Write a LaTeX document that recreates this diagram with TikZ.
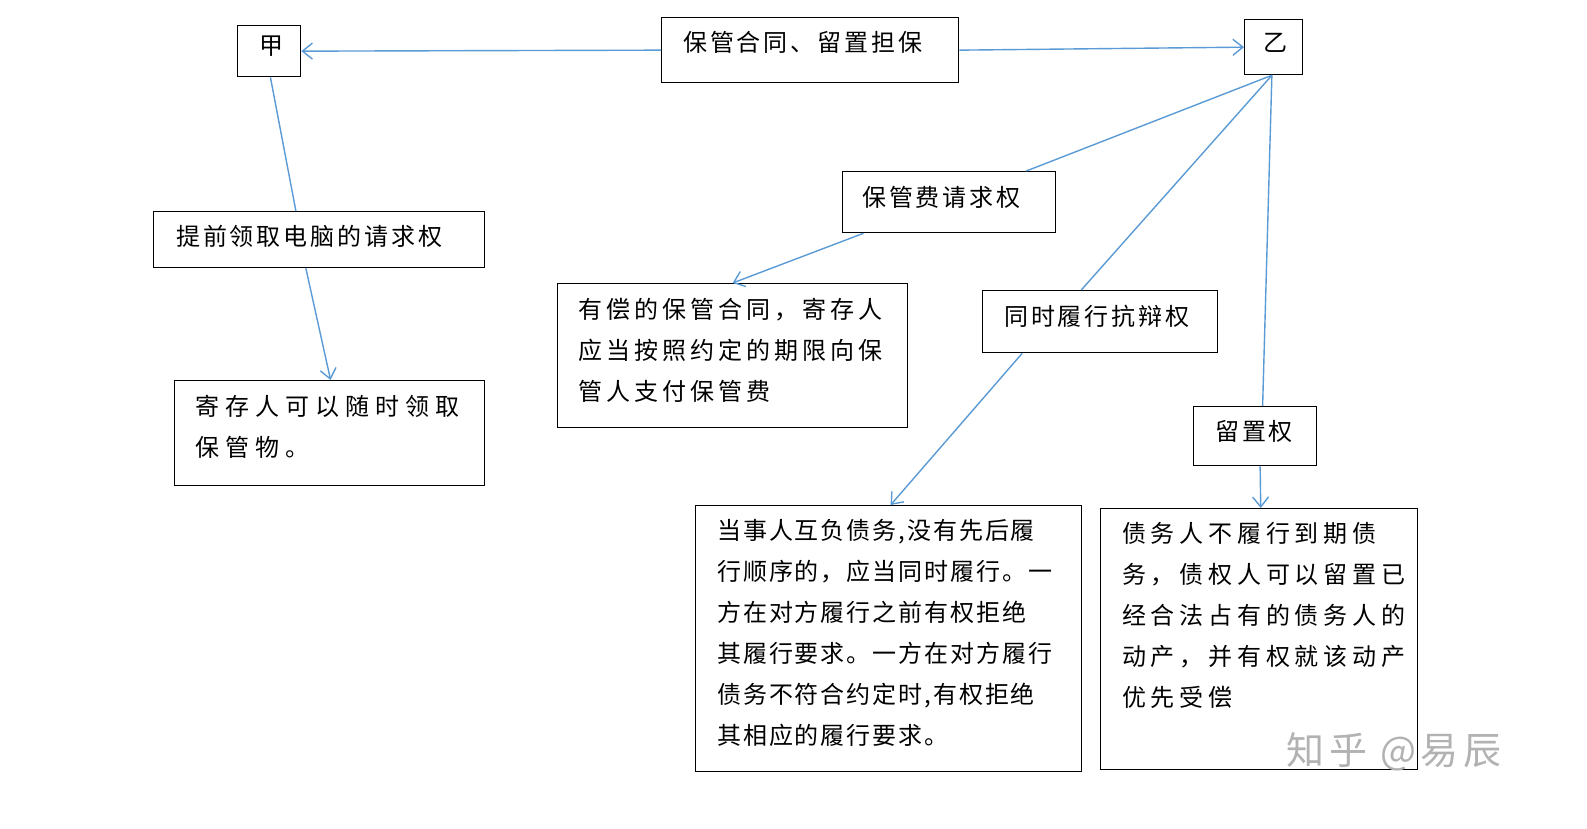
\documentclass[tikz,border=0pt]{standalone}
\usepackage{fontspec}
\usetikzlibrary{arrows.meta,calc}
\newfontfamily\cjk[LetterSpace=12]{Noto Sans CJK SC}
\newfontfamily\cjkw[LetterSpace=25]{Noto Sans CJK SC}
\newfontfamily\cjkv[LetterSpace=20]{Noto Sans CJK SC}
\newfontfamily\cjkm[LetterSpace=17]{Noto Sans CJK SC}
\newfontfamily\cjkn[LetterSpace=8]{Noto Sans CJK SC}
\definecolor{ln}{HTML}{5B9BD5}
\begin{document}
\begin{tikzpicture}[x=1pt,y=-1pt,
  bx/.style={draw,line width=1.3pt,anchor=north west,inner sep=0pt},
  tx/.style={anchor=north west,align=left,inner sep=0pt,font=\fontsize{24}{41}\cjk},
  ar/.style={draw=ln,line width=1.4pt,-{Straight Barb[length=10pt,width=16pt]}},
  li/.style={draw=ln,line width=1.4pt}]
\useasboundingbox[fill=white] (0,0) rectangle (1587,828);
\node[bx,minimum width=63pt,minimum height=51pt] (jia) at (237,25) {};
\node[bx,minimum width=297pt,minimum height=65pt] (ht) at (661,17) {};
\node[bx,minimum width=58pt,minimum height=55pt] (yi) at (1244,19) {};
\node[bx,minimum width=331pt,minimum height=56pt] (tq) at (153,211) {};
\node[bx,minimum width=310pt,minimum height=105pt] (jc) at (174,380) {};
\node[bx,minimum width=213pt,minimum height=61pt] (bgf) at (842,171) {};
\node[bx,minimum width=350pt,minimum height=144pt] (yc) at (557,283) {};
\node[bx,minimum width=235pt,minimum height=62pt] (ts) at (982,290) {};
\node[bx,minimum width=123pt,minimum height=59pt] (lz) at (1193,406) {};
\node[bx,minimum width=386pt,minimum height=266pt] (ds) at (695,505) {};
\node[bx,minimum width=317pt,minimum height=261pt] (zw) at (1100,508) {};

\node[tx] at (259,36) {甲};
\node[tx] at (683,31) {保管合同、留置担保};
\node[tx] at (1263,33) {乙};
\node[tx] at (176,225) {提前领取电脑的请求权};
\node[tx,font=\fontsize{24}{41}\cjkw] at (195,395) {寄存人可以随时领取\\保管物。};
\node[tx] at (862,186) {保管费请求权};
\node[tx,font=\fontsize{24}{41}\cjkm] at (578,298) {有偿的保管合同，寄存人\\应当按照约定的期限向保\\管人支付保管费};
\node[tx] at (1004,305) {同时履行抗辩权};
\node[tx] at (1215,420) {留置权};
\node[tx,font=\fontsize{24}{41}\cjkn] at (717,519) {当事人互负债务,没有先后履\\行顺序的，应当同时履行。一\\方在对方履行之前有权拒绝\\其履行要求。一方在对方履行\\债务不符合约定时,有权拒绝\\其相应的履行要求。};
\node[tx,font=\fontsize{24}{41}\cjkv] at (1122,522) {债务人不履行到期债\\务，债权人可以留置已\\经合法占有的债务人的\\动产，并有权就该动产\\优先受偿};
\node[anchor=west,text=black!30,font=\fontsize{38}{38}\selectfont\cjk] (wm) at (1283,752) {知乎 @易辰};

\draw[ar] (ht.west) -- (jia.east);
\draw[ar] (ht.east) -- (yi.west);
\draw[li] ($(jia.south west)!0.52!(jia.south east)$) -- ($(tq.north west)!0.43!(tq.north east)$);
\draw[ar] ($(tq.south west)!0.46!(tq.south east)$) -- ($(jc.north west)!0.503!(jc.north east)$);
\coordinate (yb) at ($(yi.south west)!0.47!(yi.south east)$);
\draw[li] (yb) -- ($(bgf.north west)!0.86!(bgf.north east)$);
\draw[ar] ($(bgf.south west)!0.1!(bgf.south east)$) -- ($(yc.north west)!0.5!(yc.north east)$);
\draw[li] (yb) -- ($(ts.north west)!0.42!(ts.north east)$);
\draw[ar] ($(ts.south west)!0.17!(ts.south east)$) -- ($(ds.north west)!0.505!(ds.north east)$);
\draw[li] (yb) -- ($(lz.north west)!0.56!(lz.north east)$);
\draw[ar] ($(lz.south west)!0.54!(lz.south east)$) -- ($(zw.north west)!0.505!(zw.north east)$);
\end{tikzpicture}
\end{document}
